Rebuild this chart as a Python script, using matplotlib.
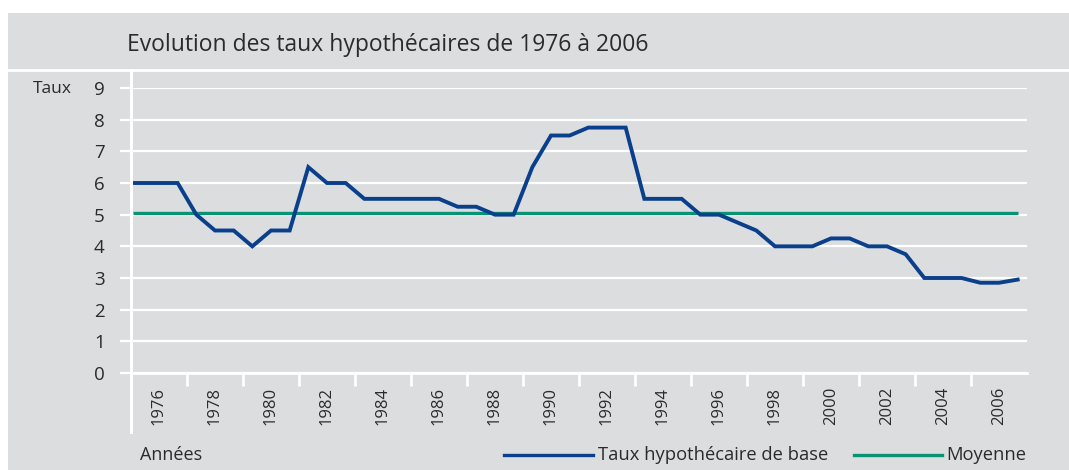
import numpy as np
import matplotlib
matplotlib.use('Agg')
import matplotlib.pyplot as plt
from matplotlib.lines import Line2D
from matplotlib.patches import Rectangle
from matplotlib.ticker import FixedLocator

# ---- data ----
taux = [6.0, 6.0, 6.0, 5.0, 4.5, 4.5, 4.0, 4.5, 4.5, 6.5,
        6.0, 6.0, 5.5, 5.5, 5.5, 5.5, 5.5, 5.25, 5.25, 5.0,
        5.0, 6.5, 7.5, 7.5, 7.75, 7.75, 7.75, 5.5, 5.5, 5.5,
        5.0, 5.0, 4.75, 4.5, 4.0, 4.0, 4.0, 4.25, 4.25, 4.0,
        4.0, 3.75, 3.0, 3.0, 3.0, 2.85, 2.85, 2.95]
dates = np.concatenate([[1975.08], 1976 + np.arange(len(taux) - 1) * 2 / 3])
year_ticks = list(range(1976, 2007, 2))
year_labels = [str(y) for y in year_ticks]
boundary_ticks = list(range(1975, 2006, 2))
y_ticks = list(range(0, 10))
moyenne = float(np.mean(taux))

title = "Evolution des taux hypothécaires de 1976 à 2006"
ylabel = "Taux"
xlabel = "Années"
serie_label = "Taux hypothécaire de base"
moy_label = "Moyenne"

# ---- style ----
plt.rcParams['font.family'] = ['Open Sans', 'DejaVu Sans']
BG = '#dcdddf'
BLUE = '#0a3f8c'
GREEN = '#0a9275'
TXT = '#2b2b2b'
W, H = 1069, 470

fig = plt.figure(figsize=(W / 100, H / 100), dpi=100)
fig.patch.set_facecolor('white')

def fx(px):
    return px / W

def fy(py):
    return 1 - py / H

fig.add_artist(Rectangle((fx(8), 0), 1 - fx(8), fy(13), transform=fig.transFigure,
                         facecolor=BG, edgecolor='none', zorder=0))
fig.add_artist(Line2D([fx(8), 1], [fy(70), fy(70)], color='white', lw=2.0, zorder=1))
fig.add_artist(Line2D([fx(131), fx(131)], [fy(70), fy(432)], color='white', lw=2.2, zorder=3))

ax = fig.add_axes([fx(131), fy(373), fx(1027) - fx(131), fy(88) - fy(373)])
ax.set_facecolor('none')
ax.set_xlim(1975, 2007)
ax.set_ylim(0, 9)
for s in ['top', 'right', 'left']:
    ax.spines[s].set_visible(False)
ax.spines['bottom'].set_color('white')
ax.spines['bottom'].set_linewidth(2.0)

ax.set_yticks(y_ticks)
ax.set_yticklabels([str(v) for v in y_ticks])
ax.yaxis.grid(True, color='white', lw=1.6, zorder=1)
ax.tick_params(axis='y', length=8, width=1.6, color='white', labelsize=13.5,
               labelcolor=TXT, pad=11)

ax.set_xticks(year_ticks)
ax.set_xticklabels(year_labels, rotation=90)
ax.xaxis.set_minor_locator(FixedLocator(boundary_ticks))
ax.tick_params(axis='x', which='major', length=0, labelsize=12, labelcolor=TXT, pad=10)
ax.tick_params(axis='x', which='minor', length=9.5, width=2.0, color='white')
ax.set_axisbelow(True)

ax.plot([dates[0], dates[-1]], [moyenne, moyenne], color=GREEN, lw=2.4,
        solid_capstyle='butt', zorder=3)
ax.plot(dates, taux, color=BLUE, lw=2.8, solid_joinstyle='miter', zorder=4)

fig.text(fx(127), fy(51), title, fontsize=16.5, color=TXT, va='baseline', ha='left')
fig.text(fx(33), fy(89), ylabel, fontsize=12.5, color=TXT, va='center', ha='left')
fig.text(fx(140), fy(455), xlabel, fontsize=13, color=TXT, va='center', ha='left')

fig.add_artist(Line2D([fx(504), fx(593)], [fy(455), fy(455)], color=BLUE, lw=2.4))
fig.text(fx(598), fy(455), serie_label, fontsize=13.2, color=TXT, va='center', ha='left')
fig.add_artist(Line2D([fx(854), fx(942)], [fy(455), fy(455)], color=GREEN, lw=2.4))
fig.text(fx(946), fy(455), moy_label, fontsize=13.2, color=TXT, va='center', ha='left')

fig.savefig('out.png', dpi=100, facecolor='white')
